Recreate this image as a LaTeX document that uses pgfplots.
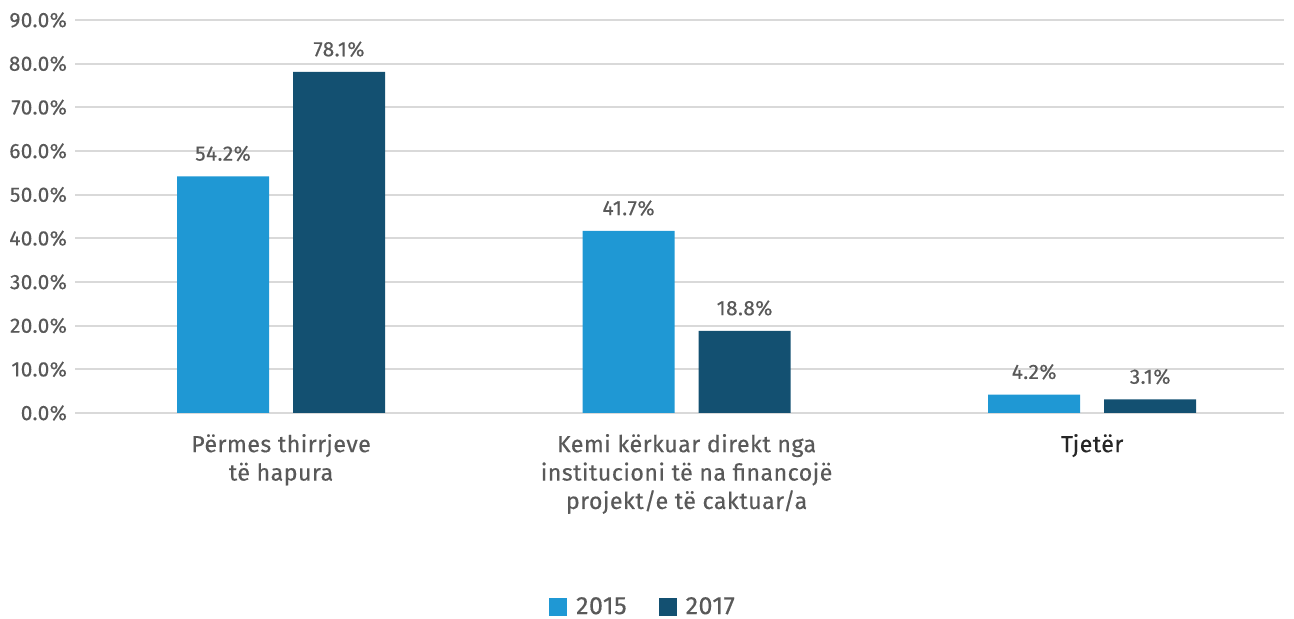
\documentclass[border=0pt]{standalone}
\usepackage{fontspec}
\setmainfont[LetterSpace=2,FakeBold=0.4]{Fira Sans}
\usepackage{pgfplots}
\pgfplotsset{compat=1.18}
\definecolor{cA}{HTML}{1F98D4}
\definecolor{cB}{HTML}{135071}
\definecolor{grd}{HTML}{D9D9D9}
\definecolor{txt}{HTML}{595959}
\begin{document}
\begin{tikzpicture}
\useasboundingbox (-37.5pt,-103pt) rectangle (609.5pt,206.5pt);
\begin{axis}[
  at={(0pt,0pt)}, anchor=south west,
  scale only axis,
  width=604.5pt, height=196.5pt,
  xmin=-0.508, xmax=2.473,
  ymin=0, ymax=90,
  ytick={0,10,...,90},
  axis line style={draw=none},
  major tick length=0pt,
  ymajorgrids,
  grid style={grd, line width=1pt},
  /pgf/number format/assume math mode=true,
  yticklabel={\pgfmathprintnumber[fixed,fixed zerofill,precision=1]{\tick}\%},
  yticklabel style={font=\fontsize{10.4pt}{11pt}\selectfont, text=txt, xshift=-0.5pt},
  xtick={0,1,2},
  xticklabels={{Përmes thirrjeve\\të hapura},{Kemi kërkuar direkt nga\\institucioni të na financojë\\projekt/e të caktuar/a},{\color{black!85}Tjetër}},
  xticklabel style={align=center, font=\fontsize{11.6pt}{14.2pt}\selectfont, text=txt, yshift=-7pt},
  ybar=12pt,
  bar width=46pt,
  nodes near coords={\pgfmathprintnumber[fixed,fixed zerofill,precision=1]{\pgfplotspointmeta}\%},
  nodes near coords style={font=\fontsize{10.4pt}{11pt}\selectfont, text=txt, anchor=south, yshift=4pt},
  legend style={at={(0.4706,-0.494)}, anchor=center, draw=none, legend columns=2,
    font=\fontsize{12.5pt}{13pt}\selectfont, text=txt,
    /tikz/every even column/.append style={column sep=14pt}},
  legend image code/.code={\fill[#1] (0pt,-4.5pt) rectangle (9pt,4.5pt); \path (11.5pt,0pt);},
]
\addplot[fill=cA, draw=none] coordinates {(0,54.2) (1,41.7) (2,4.2)};
\addplot[fill=cB, draw=none] coordinates {(0,78.1) (1,18.8) (2,3.1)};
\legend{2015,2017}
\end{axis}
\end{tikzpicture}
\end{document}
